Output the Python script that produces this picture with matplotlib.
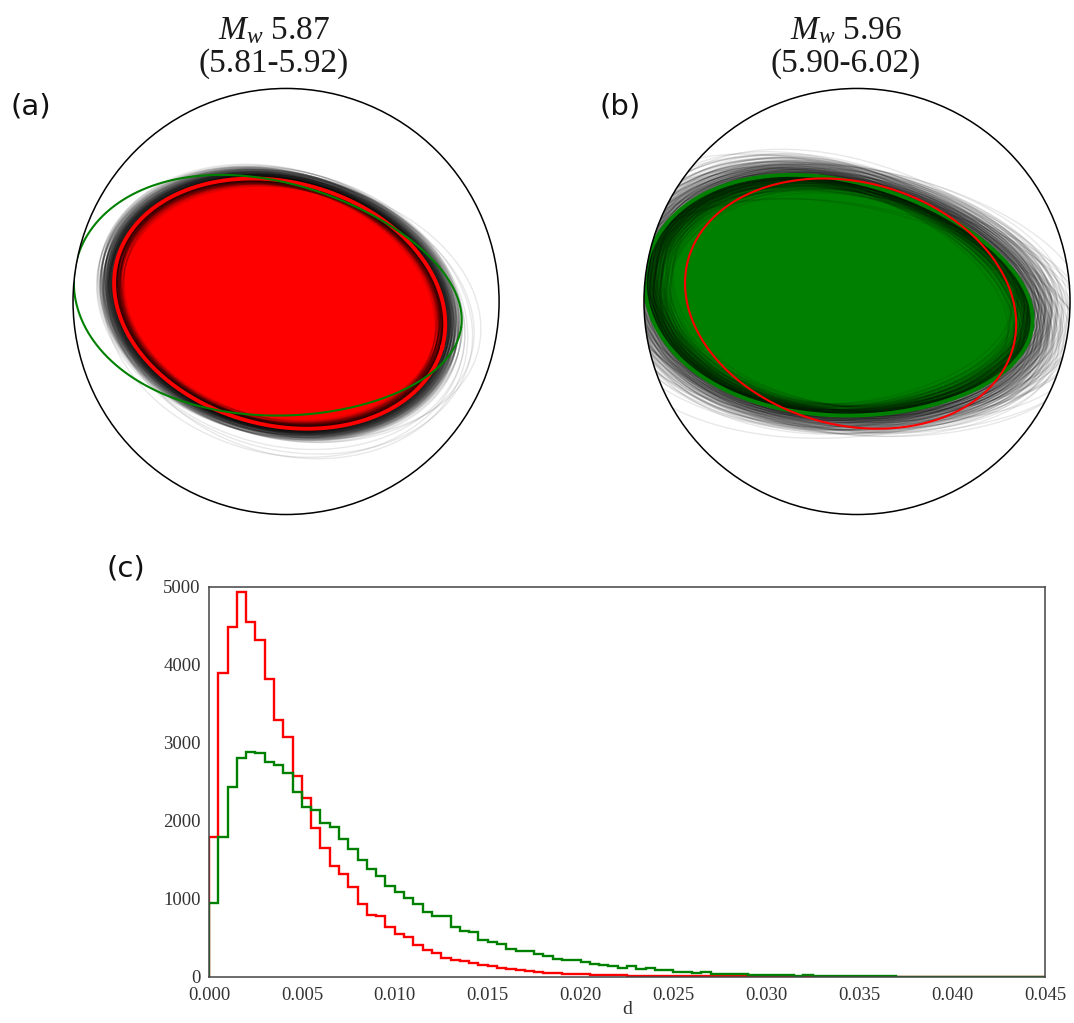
import numpy as np
import matplotlib
matplotlib.use("Agg")
import matplotlib.pyplot as plt
from matplotlib.collections import LineCollection
from matplotlib.patches import Circle, Polygon

plt.rcParams["font.family"] = ["Liberation Serif", "DejaVu Serif"]
plt.rcParams["mathtext.fontset"] = "custom"
plt.rcParams["mathtext.rm"] = "Liberation Serif"
plt.rcParams["mathtext.it"] = "Liberation Serif:italic"

# --- histogram of d (90 bins between 0 and 0.045) ---
d_min, d_max, n_bins = 0.0, 0.045, 90
counts_red = [
    1800, 3900, 4490, 4930, 4545, 4325, 3820, 3290, 3080, 2580,
    2300, 1915, 1655, 1425, 1325, 1155, 930, 790, 780, 645,
    548, 510, 407, 351, 308, 248, 223, 205, 180, 158,
    137, 120, 103, 94, 77, 64, 56, 47, 43, 40,
    34, 30, 28, 26, 22, 18, 17, 15, 13, 12,
    11, 10, 9, 8, 7, 7, 7, 6, 6, 5,
    5, 5, 4, 4, 4, 3, 3, 3, 3, 2,
    2, 2, 2, 2, 2, 1, 1, 1, 1, 1,
    1, 1, 1, 1, 1, 1, 1, 1, 1, 1,
]
counts_green = [
    950, 1800, 2440, 2805, 2890, 2870, 2750, 2715, 2620, 2370,
    2185, 2140, 1970, 1925, 1765, 1635, 1500, 1390, 1293, 1170,
    1088, 1010, 930, 830, 779, 779, 640, 591, 578, 475,
    449, 425, 360, 334, 334, 300, 265, 228, 220, 218,
    193, 163, 150, 137, 120, 137, 98, 116, 86, 86,
    58, 64, 56, 60, 40, 34, 34, 38, 25, 22,
    21, 21, 20, 14, 21, 13, 12, 13, 10, 9,
    8, 8, 7, 6, 5, 4, 3, 3, 2, 2,
    1, 1, 1, 1, 0, 0, 0, 0, 0, 0,
]
x_ticks = [0.000, 0.005, 0.010, 0.015, 0.020, 0.025, 0.030, 0.035, 0.040, 0.045]
y_ticks = [0, 1000, 2000, 3000, 4000, 5000]

# --- nodal lines on the unit stereonet: [cx, cy, a, b, tilt(deg), egg] ---
red_shape = [-0.03, -0.01, 0.79, 0.57, -15.0, 0.0]
green_shape = [-0.085, 0.014, 0.917, 0.551, -8.7, -0.12]

# spread of the bootstrap solutions around each best solution
spread_a_scale = [0.965, 0.98, 0.99, 1.0, 1.008, 1.016, 1.024, 1.032, 1.045, 1.06, 1.08]
spread_a_tilt = [-3.0, -1.5, 0.0, 1.5, 3.0]
spread_a_shift = [(-0.015, 0.0), (0.0, 0.012), (0.015, -0.01), (0.0, 0.0)]
# (dx, dy, a factor, b factor, extra tilt)
outliers_a = [(0.03, -0.04, 1.08, 1.10, 0), (0.05, -0.05, 1.10, 1.12, 0),
              (0.04, -0.03, 1.12, 1.06, 2), (0.06, -0.06, 1.06, 1.14, -2),
              (0.02, -0.05, 1.09, 1.15, 0), (0.07, -0.02, 1.12, 1.05, 3)]

spread_b_scale = [0.92, 0.95, 0.97, 0.985, 1.0, 1.01, 1.025, 1.04, 1.06, 1.09, 1.12]
spread_b_tilt = [-6.0, -3.0, 0.0, 3.0, 6.0]
spread_b_shift = [(-0.03, 0.01), (0.0, 0.0), (0.03, -0.02), (0.05, 0.0)]
wide_b = [(0.06, 0.00, 1.16, 1.00, 0), (0.08, -0.04, 1.18, 0.98, 2),
          (0.10, -0.08, 1.15, 1.02, -2), (-0.06, 0.02, 1.16, 1.04, 4),
          (-0.08, 0.05, 1.18, 1.03, -4), (0.07, -0.10, 1.20, 0.96, 0),
          (0.09, 0.03, 1.17, 1.05, 3), (-0.05, -0.03, 1.15, 1.08, -3),
          (0.05, -0.06, 1.22, 1.00, 5), (0.11, -0.02, 1.14, 0.97, -5),
          (0.04, 0.02, 1.19, 1.06, 1), (-0.02, -0.07, 1.21, 1.02, 2),
          (0.12, -0.05, 1.16, 0.99, 4), (0.00, 0.04, 1.20, 1.07, -1),
          (0.08, 0.06, 1.13, 1.04, -6), (-0.04, -0.10, 1.18, 1.01, 6)]


def nodal_line(cx, cy, a, b, tilt, egg, n=361):
    t = np.linspace(0, 2 * np.pi, n)
    u = a * np.cos(t)
    v = b * np.sin(t) * (1 + egg * np.cos(t))
    th = np.radians(tilt)
    x = cx + u * np.cos(th) - v * np.sin(th)
    y = cy + u * np.sin(th) + v * np.cos(th)
    return np.column_stack([x, y])


def ensemble(shape, scales, tilts, shifts, extra):
    cx, cy, a, b, tilt, egg = shape
    lines = []
    for s in scales:
        for dt in tilts:
            for dx, dy in shifts:
                lines.append(nodal_line(cx + dx, cy + dy, a * s, b * s, tilt + dt, egg))
    for dx, dy, sa, sb, dt in extra:
        lines.append(nodal_line(cx + dx, cy + dy, a * sa, b * sb, tilt + dt, egg))
    return lines


def beachball(ax, fill_shape, fill_colour, lines, thick_shape, thick_colour, thin_shape, thin_colour):
    ax.set_xlim(-1.02, 1.02)
    ax.set_ylim(-1.02, 1.02)
    ax.set_aspect("equal")
    ax.axis("off")
    rim = Circle((0, 0), 1.0, transform=ax.transData)

    body = Polygon(nodal_line(*fill_shape), closed=True, facecolor=fill_colour,
                   edgecolor="none", zorder=1)
    ax.add_patch(body)
    body.set_clip_path(rim)

    lc = LineCollection(lines, colors="black", linewidths=1.0, alpha=0.09, zorder=2)
    ax.add_collection(lc)
    lc.set_clip_path(rim)

    for shape, colour, lw, z in [(thick_shape, thick_colour, 2.8, 3), (thin_shape, thin_colour, 1.5, 4)]:
        xy = nodal_line(*shape)
        ln, = ax.plot(xy[:, 0], xy[:, 1], color=colour, lw=lw, zorder=z)
        ln.set_clip_path(rim)

    ax.add_patch(Circle((0, 0), 1.0, facecolor="none", edgecolor="black", lw=1.1, zorder=5))


fig = plt.figure(figsize=(10.74, 10.23), dpi=100)

ax_a = fig.add_axes([0.0640, 0.4929, 0.4047, 0.4248])
beachball(ax_a, red_shape, "#ff0000",
          ensemble(red_shape, spread_a_scale, spread_a_tilt, spread_a_shift, outliers_a),
          red_shape, "#ff0000", green_shape, "#008000")

ax_b = fig.add_axes([0.5956, 0.4929, 0.4047, 0.4248])
beachball(ax_b, green_shape, "#008000",
          ensemble(green_shape, spread_b_scale, spread_b_tilt, spread_b_shift, wide_b),
          green_shape, "#008000", red_shape, "#ff0000")

fig.text(274 / 1074, 1 - 47 / 1023, "$M_w$ 5.87\n(5.81-5.92)", ha="center", va="center",
         fontsize=24, linespacing=1.1, color="#1a1a1a")
fig.text(846 / 1074, 1 - 47 / 1023, "$M_w$ 5.96\n(5.90-6.02)", ha="center", va="center",
         fontsize=24, linespacing=1.1, color="#1a1a1a")
for label, px, py in [("(a)", 31, 106), ("(b)", 620, 106), ("(c)", 126, 569)]:
    fig.text(px / 1074, 1 - py / 1023, label, ha="center", va="center",
             fontsize=21, family="DejaVu Sans", color="#111111")

# --- panel (c) ---
ax_c = fig.add_axes([0.1946, 0.0450, 0.7784, 0.3812])
edges = np.linspace(d_min, d_max, n_bins + 1)
ax_c.stairs(counts_red, edges, color="#ff0000", lw=1.7, baseline=0)
ax_c.stairs(counts_green, edges, color="#008000", lw=1.7, baseline=0)
ax_c.set_xlim(d_min, d_max)
ax_c.set_ylim(0, 5000)
ax_c.set_xticks(x_ticks)
ax_c.set_xticklabels([f"{v:.3f}" for v in x_ticks])
ax_c.set_yticks(y_ticks)
ax_c.tick_params(length=0, labelsize=13.5, labelcolor="#333333")
ax_c.tick_params(axis="y", pad=6)
ax_c.tick_params(axis="x", pad=7)
for sp in ax_c.spines.values():
    sp.set_color("#444444")
    sp.set_linewidth(1.1)
ax_c.set_xlabel("d", fontsize=14, color="#333333", labelpad=-2)

fig.savefig("out.png", dpi=100)
